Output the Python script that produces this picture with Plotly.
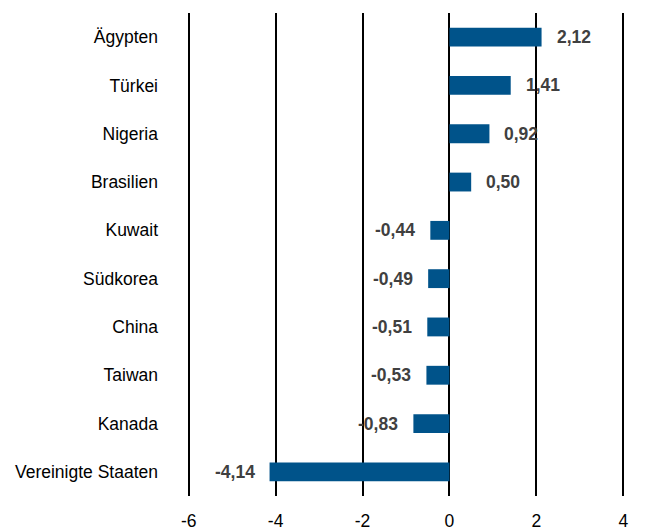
import plotly.graph_objects as go

countries = ["Ägypten", "Türkei", "Nigeria", "Brasilien", "Kuwait", "Südkorea",
             "China", "Taiwan", "Kanada", "Vereinigte Staaten"]
values = [2.12, 1.41, 0.92, 0.50, -0.44, -0.49, -0.51, -0.53, -0.83, -4.14]
labels = ["2,12", "1,41", "0,92", "0,50", "-0,44", "-0,49", "-0,51", "-0,53", "-0,83", "-4,14"]
x_ticks = [-6, -4, -2, 0, 2, 4]

FONT = "Liberation Sans, Arial, sans-serif"
FS = 17.5

fig = go.Figure()
fig.add_trace(go.Bar(
    x=values, y=countries, orientation="h",
    marker=dict(color="#00538A", line=dict(width=0)),
    width=0.39,
))

for c, v, t in zip(countries, values, labels):
    fig.add_annotation(
        x=v, y=c, text=f"<b>{t}</b>", showarrow=False,
        xanchor="left" if v > 0 else "right",
        xshift=13 if v > 0 else -13,
        font=dict(family=FONT, size=FS, color="#404040"),
    )

fig.update_layout(
    width=646, height=531,
    margin=dict(l=179, r=29, t=5, b=43),
    paper_bgcolor="white", plot_bgcolor="white",
    showlegend=False,
    font=dict(family=FONT, size=FS, color="#000000"),
    xaxis=dict(
        range=[-6.04, 4.04], tickvals=x_ticks, ticktext=[str(v) for v in x_ticks],
        showgrid=True, gridcolor="#000000", gridwidth=2,
        zeroline=True, zerolinecolor="#000000", zerolinewidth=2,
        showline=False, ticks="", tickfont=dict(size=FS, color="#000000"),
        ticklabelstandoff=12,
        automargin=False, fixedrange=True,
    ),
    yaxis=dict(
        categoryorder="array", categoryarray=countries,
        autorange=False, range=[9.5, -0.5],
        showgrid=False, zeroline=False, showline=False, ticks="",
        ticklabelstandoff=28, tickfont=dict(size=FS, color="#000000"),
        automargin=False,
    ),
)

fig.write_html("out.html")
